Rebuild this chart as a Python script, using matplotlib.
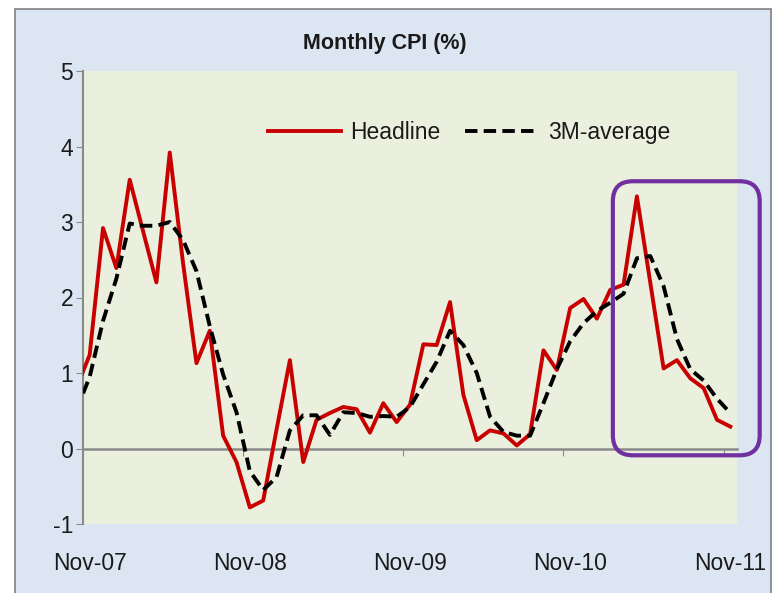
import numpy as np
import matplotlib
matplotlib.use("Agg")
import matplotlib.pyplot as plt
from matplotlib.patches import Rectangle, FancyBboxPatch

plt.rcParams['font.family'] = ['Liberation Sans', 'DejaVu Sans']
plt.rcParams['axes.unicode_minus'] = False

# month index: -1 = Oct-07, 0 = Nov-07 ... 48 = Nov-11
months = np.arange(-1, 49)

headline = [0.80, 1.24, 2.92, 2.39, 3.56, 2.88, 2.20, 3.92, 2.45, 1.13,
            1.56, 0.17, -0.18, -0.78, -0.69, 0.25, 1.17, -0.18, 0.38, 0.47,
            0.55, 0.52, 0.21, 0.60, 0.35, 0.58, 1.38, 1.37, 1.94, 0.71,
            0.11, 0.24, 0.20, 0.04, 0.19, 1.30, 1.04, 1.86, 1.98, 1.72,
            2.10, 2.17, 3.34, 2.20, 1.06, 1.17, 0.93, 0.80, 0.38, 0.29]

avg_3m = [0.50, 0.95, 1.69, 2.25, 2.98, 2.95, 2.95, 3.00, 2.76, 2.35,
          1.62, 0.98, 0.48, -0.30, -0.55, -0.38, 0.24, 0.44, 0.44, 0.18,
          0.48, 0.47, 0.42, 0.43, 0.42, 0.55, 0.85, 1.15, 1.56, 1.37,
          1.00, 0.42, 0.22, 0.17, 0.17, 0.60, 1.05, 1.42, 1.66, 1.82,
          1.93, 2.05, 2.52, 2.55, 2.15, 1.45, 1.05, 0.90, 0.66, 0.47]

tick_labels = ['Nov-07', 'Nov-08', 'Nov-09', 'Nov-10', 'Nov-11']
label_pos = [0, 12, 24, 36, 48]

RED = '#c80000'
GRAY = '#8a8a8a'
TXT = '#1a1a1a'

fig = plt.figure(figsize=(7.76, 5.93), dpi=100)
fig.patch.set_facecolor('white')

# outer chart frame
frame = Rectangle((15 / 776, -0.05), 756 / 776, 1.05 - 9 / 593,
                  transform=fig.transFigure, facecolor='#dce6f2',
                  edgecolor='#808080', linewidth=1.2, zorder=-5)
fig.patches.append(frame)

ax = fig.add_axes([83 / 776, 69 / 593, 654 / 776, 453 / 593])
ax.set_zorder(2)
ax.set_facecolor('#ebefde')

ax.plot(months, headline, color=RED, lw=2.8, label='Headline', zorder=3)
ax.plot(months, avg_3m, color='black', lw=2.8, ls=(0, (3.2, 1.6)),
        label='3M-average', zorder=4)

ax.set_xlim(-0.5, 48.5)
ax.set_ylim(-1, 5)
ax.set_yticks(range(-1, 6))
ax.tick_params(axis='y', direction='out', length=5, color=GRAY,
               labelsize=16.5, labelcolor=TXT, pad=2)

for s in ['top', 'right']:
    ax.spines[s].set_visible(False)
ax.spines['left'].set_color(GRAY)
ax.spines['left'].set_linewidth(1.5)
ax.spines['bottom'].set_position(('data', 0))
ax.spines['bottom'].set_color(GRAY)
ax.spines['bottom'].set_linewidth(1.8)

ax.set_xticks([p - 0.5 for p in label_pos])
ax.tick_params(axis='x', direction='out', length=5, color=GRAY,
               labelbottom=False)

sec = ax.secondary_xaxis('bottom')
sec.set_xticks(label_pos, tick_labels)
sec.tick_params(length=0, pad=20, labelsize=16.5, labelcolor=TXT)
sec.spines['bottom'].set_visible(False)

ax.legend(loc='center', bbox_to_anchor=(0.59, 0.865), ncol=2, frameon=False,
          fontsize=16.5, handlelength=3.2, handletextpad=0.4, columnspacing=1.1,
          labelcolor=TXT)

fig.text(385 / 776, 1 - 44 / 593, 'Monthly CPI (%)', ha='center', va='center',
         fontsize=15.5, fontweight='bold', color=TXT)

# purple highlight around the latest months
box = FancyBboxPatch((39.2, -0.09), 11.0, 3.63,
                     boxstyle='round,pad=0,rounding_size=1.5',
                     mutation_aspect=0.177, transform=ax.transData,
                     facecolor='none', edgecolor='#7030a0', linewidth=3,
                     clip_on=False, zorder=5)
ax.add_patch(box)

fig.savefig('out.png', dpi=100)
